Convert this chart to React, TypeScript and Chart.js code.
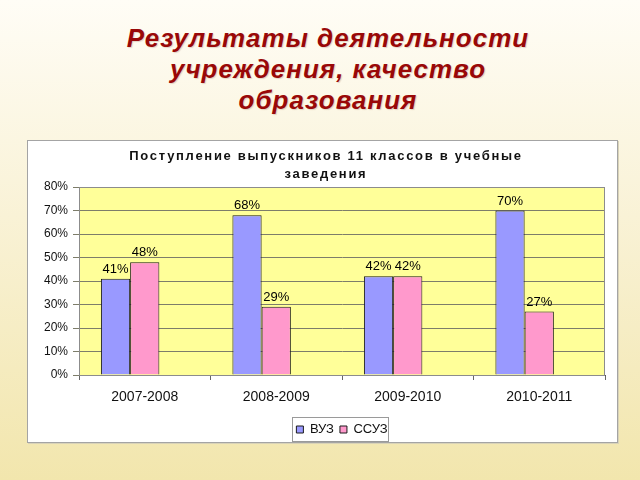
import React, { useEffect, useRef } from "react";
import { Chart, registerables } from "chart.js";

Chart.register(...registerables);

const pageTitle = ["Результаты деятельности", "учреждения, качество", "образования"];
const chartTitle = ["Поступление выпускников 11 классов в учебные", "заведения"];
const categories = ["2007-2008", "2008-2009", "2009-2010", "2010-2011"];
const seriesNames = ["ВУЗ", "ССУЗ"];
const vuzValues = [41, 68, 42, 70];
const ssuzValues = [48, 29, 42, 27];
const emptySeries = [null, null, null, null];
const yMin = 0;
const yMax = 80;
const yStep = 10;

const FONT = '"Liberation Sans", Arial, sans-serif';

const plotBackground = {
  id: "plotBackground",
  beforeDraw(chart: any) {
    const { ctx, chartArea } = chart;
    if (!chartArea) return;
    ctx.save();
    ctx.fillStyle = "#FFFF99";
    ctx.fillRect(chartArea.left, chartArea.top, chartArea.right - chartArea.left, chartArea.bottom - chartArea.top);
    ctx.restore();
  },
  beforeDatasetsDraw(chart: any) {
    const { ctx, chartArea } = chart;
    ctx.save();
    ctx.strokeStyle = "#8c8c8c";
    ctx.lineWidth = 1;
    ctx.strokeRect(
      Math.round(chartArea.left) + 0.5,
      Math.round(chartArea.top) + 0.5,
      Math.round(chartArea.right - chartArea.left) - 1,
      Math.round(chartArea.bottom - chartArea.top)
    );
    ctx.restore();
  },
};

const valueLabels = {
  id: "valueLabels",
  afterDatasetsDraw(chart: any) {
    const { ctx } = chart;
    ctx.save();
    ctx.font = `13px ${FONT}`;
    ctx.fillStyle = "#000";
    ctx.textAlign = "center";
    ctx.textBaseline = "bottom";
    chart.data.datasets.forEach((ds: any, di: number) => {
      const meta = chart.getDatasetMeta(di);
      if (meta.hidden) return;
      meta.data.forEach((el: any, i: number) => {
        const v = ds.data[i];
        if (v === null || v === undefined) return;
        ctx.fillText(v + "%", el.x, el.y - 3);
      });
    });
    ctx.restore();
  },
};

const titleSpacing = {
  id: "titleSpacing",
  beforeDraw(chart: any) {
    const tb: any = chart.titleBlock;
    if (tb && !tb.__spaced) {
      const orig = tb.draw.bind(tb);
      tb.draw = (...args: any[]) => {
        const ctx: any = chart.ctx;
        ctx.save();
        ctx.translate(4, 0);
        ctx.letterSpacing = "1.7px";
        orig(...args);
        ctx.restore();
      };
      tb.__spaced = true;
    }
  },
};

const legendFrame = {
  id: "legendFrame",
  afterDraw(chart: any) {
    const lg: any = chart.legend;
    if (!lg || !lg.legendHitBoxes || !lg.legendHitBoxes.length) return;
    const boxes = lg.legendHitBoxes;
    let l = Infinity, r = -Infinity, t = Infinity, b = -Infinity;
    boxes.forEach((h: any) => {
      l = Math.min(l, h.left);
      r = Math.max(r, h.left + h.width);
      t = Math.min(t, h.top);
      b = Math.max(b, h.top + h.height);
    });
    const { ctx } = chart;
    ctx.save();
    ctx.strokeStyle = "#9a9a9a";
    ctx.lineWidth = 1;
    ctx.strokeRect(Math.round(l - 4) + 0.5, Math.round(t - 6) + 0.5, Math.round(r - l + 5), Math.round(b - t + 11));
    ctx.restore();
  },
};

export default function App() {
  const canvasRef = useRef<HTMLCanvasElement | null>(null);

  useEffect(() => {
    if (!canvasRef.current) return;
    Chart.defaults.font.family = FONT;
    const chart = new Chart(canvasRef.current, {
      type: "bar",
      data: {
        labels: categories,
        datasets: [
          {
            label: seriesNames[0],
            data: vuzValues,
            backgroundColor: "#9999FF",
            borderColor: "#1a1a1a",
            borderWidth: 1,
          },
          {
            label: seriesNames[1],
            data: ssuzValues,
            backgroundColor: "#FF99CC",
            borderColor: "#1a1a1a",
            borderWidth: 1,
          },
          {
            label: "",
            data: emptySeries as any,
            backgroundColor: "#FFFFC0",
            borderColor: "#1a1a1a",
            borderWidth: 1,
          },
        ],
      },
      options: {
        animation: false,
        responsive: false,
        maintainAspectRatio: false,
        devicePixelRatio: 1,
        datasets: {
          bar: { categoryPercentage: 2 / 3, barPercentage: 1 },
        },
        layout: { padding: { left: 11, right: 12, top: 0, bottom: -4 } },
        plugins: {
          title: {
            display: true,
            text: chartTitle,
            color: "#111",
            font: { size: 13, weight: "bold", family: FONT, lineHeight: 1.385 },
            padding: { top: 6, bottom: 4 },
          },
          legend: {
            display: true,
            position: "bottom",
            fullSize: false,
            labels: {
              boxWidth: 7,
              boxHeight: 7,
              padding: 6,
              color: "#111",
              font: { size: 13, family: FONT },
              filter: (item: any) => item.datasetIndex < 2,
            },
          },
          tooltip: { enabled: false },
        },
        scales: {
          x: {
            grid: {
              offset: true,
              drawOnChartArea: false,
              drawTicks: true,
              tickLength: 5,
              color: "#666",
            },
            border: { color: "#555" },
            ticks: {
              color: "#111",
              font: { size: 14, family: FONT },
              padding: 9,
            },
            afterFit: (s: any) => {
              s.height = 42;
            },
          },
          y: {
            min: yMin,
            max: yMax,
            ticks: {
              stepSize: yStep,
              color: "#111",
              font: { size: 12, family: FONT },
              padding: 5,
              callback: (v: any) => v + "%",
            },
            grid: { color: "#7d7d6a", tickLength: 6 },
            border: { color: "#555" },
            afterFit: (s: any) => {
              s.width = 40;
            },
          },
        },
      },
      plugins: [plotBackground, valueLabels, titleSpacing, legendFrame],
    });
    return () => chart.destroy();
  }, []);

  return (
    <div
      style={{
        position: "fixed",
        left: 0,
        top: 0,
        width: 640,
        height: 480,
        overflow: "hidden",
        background: "linear-gradient(to bottom, #fffdf6 0%, #f9f2d6 45%, #f2e6ad 100%)",
      }}
    >
      <div
        style={{
          position: "absolute",
          left: 0,
          top: 23,
          width: 656,
          textAlign: "center",
          fontFamily: FONT,
          fontWeight: "bold",
          fontStyle: "italic",
          fontSize: 26,
          lineHeight: "31px",
          color: "#990808",
          letterSpacing: "1px",
          textShadow: "1px 1px 1px rgba(120,60,40,0.2)",
        }}
      >
        {pageTitle.map((t, i) => (
          <div key={i}>{t}</div>
        ))}
      </div>
      <div
        style={{
          position: "absolute",
          left: 27,
          top: 140,
          width: 589,
          height: 301,
          background: "#ffffff",
          border: "1px solid #a4a4a4",
          boxShadow: "1px 1px 0 #d9d3b8",
        }}
      >
        <canvas ref={canvasRef} width={589} height={301} style={{ display: "block", width: 589, height: 301 }} />
      </div>
    </div>
  );
}
